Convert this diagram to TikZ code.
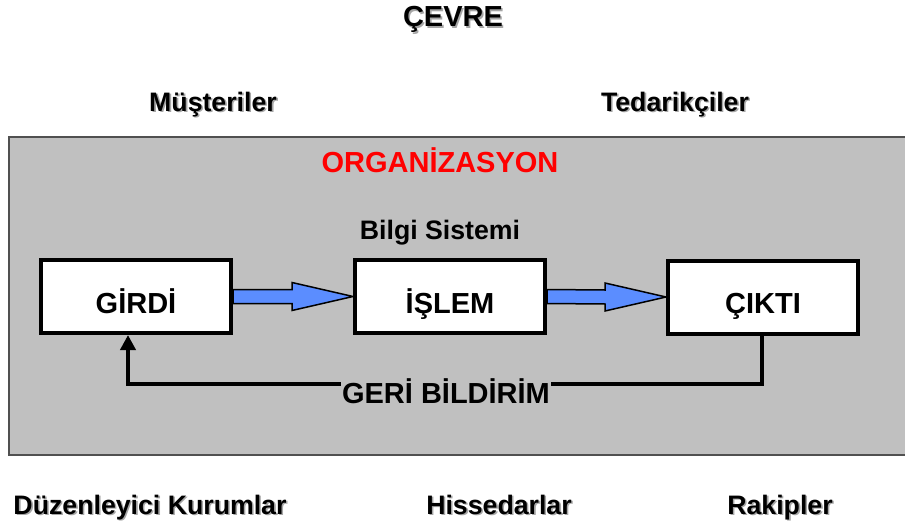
\documentclass[tikz,border=0pt]{standalone}
\usepackage{fontspec}
\setmainfont{Liberation Sans}
\usetikzlibrary{arrows.meta,calc}

\definecolor{orgfill}{HTML}{C0C0C0}
\definecolor{orgline}{HTML}{505050}
\definecolor{flowblue}{HTML}{5B8DFF}
\definecolor{orgred}{HTML}{FF0000}

\tikzset{
  big/.style={font=\bfseries\fontsize{29}{34}\selectfont},
  small/.style={font=\bfseries\fontsize{26.7}{32}\selectfont},
  % fixed text height/depth puts the caption a little below the box centre
  stagebox/.style={draw=black, fill=white, line width=4pt, minimum width=190pt,
    minimum height=73pt, inner sep=0pt, text height=33pt, text depth=0pt, big},
  outlabel/.style={small, anchor=base, inner sep=0pt},
  flowarrow/.style={draw=black, fill=flowblue, line width=1.5pt, line join=miter},
  feedback/.style={draw=black, line width=4pt, line join=miter}
}

% text with a soft gray drop shadow
\newcommand{\shadowtext}[4]{%
  \node[#1, text=black!35] at ($(#2)+(1.6,1.6)$) {#4};
  \node[#1] (#3) at (#2) {#4};
}

\begin{document}
\begin{tikzpicture}[x=1pt, y=-1pt]
  \clip (0,0) rectangle (905,527);
  \fill[white] (0,0) rectangle (905,527);

  % organisation area
  \draw[orgline, fill=orgfill, line width=2pt] (9,137) rectangle (915,455);

  % environment labels
  \shadowtext{big, anchor=base, inner sep=0pt}{453,27}{cevre}{ÇEVRE}
  \shadowtext{outlabel}{213,111}{must}{Müşteriler}
  \shadowtext{outlabel}{675,111}{teda}{Tedarikçiler}
  \shadowtext{outlabel}{150,514}{duz}{Düzenleyici Kurumlar}
  \shadowtext{outlabel}{499,514}{hiss}{Hissedarlar}
  \shadowtext{outlabel}{780,514}{rak}{Rakipler}

  % organisation titles
  \node[big, text=orgred, anchor=base, inner sep=0pt] (org) at (440,172) {ORGANİZASYON};
  \node[outlabel] (bilgi) at (440,239) {Bilgi Sistemi};

  % process stages
  \node[stagebox] (g) at (136,296.5) {GİRDİ};
  \node[stagebox] (i) at (450,296.5) {İŞLEM};
  \node[stagebox] (c) at (763,297) {ÇIKTI};

  % block arrows between stages
  \foreach \a/\b in {g/i, i/c}{
    \draw[flowarrow]
      ($(\a.east)+(0,-7)$) -- ($(\b.west)+(-61,-7)$) -- ($(\b.west)+(-61,-14)$)
      -- (\b.west) -- ($(\b.west)+(-61,14)$) -- ($(\b.west)+(-61,7)$)
      -- ($(\a.east)+(0,7)$) -- cycle;
  }

  % feedback loop
  \coordinate (fbL) at (128,384);
  \coordinate (fbR) at (762,384);
  \draw[feedback, -{Triangle[length=15pt,width=15pt]}]
    (c.south -| fbR) -- (fbR) -- (fbL) -- (fbL |- g.south);
  \node[big, anchor=base, fill=orgfill, inner sep=1pt] (fb) at (446,403) {GERİ BİLDİRİM};
\end{tikzpicture}
\end{document}
